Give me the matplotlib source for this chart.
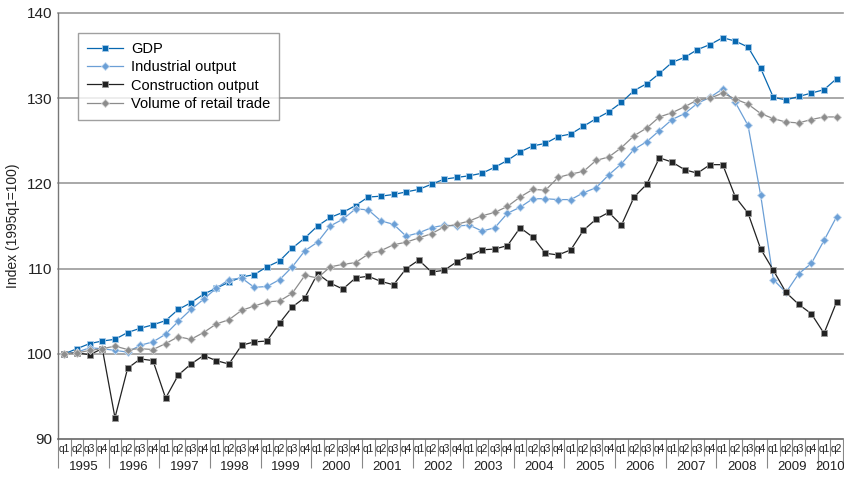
import numpy as np
import matplotlib.pyplot as plt

# quarterly data, 1995q1 .. 2010q2 (index 1995q1 = 100)
years = list(range(1995, 2011))
quarters = ["q1", "q2", "q3", "q4"]

gdp = [100.0, 100.6, 101.2, 101.5, 101.7, 102.5, 103.0, 103.4, 103.9, 105.2,
       106.0, 107.0, 107.7, 108.4, 109.0, 109.3, 110.2, 110.9, 112.4, 113.6,
       115.0, 116.0, 116.6, 117.4, 118.4, 118.5, 118.7, 119.0, 119.3, 119.9,
       120.5, 120.7, 120.9, 121.2, 121.9, 122.7, 123.7, 124.4, 124.7, 125.5,
       125.8, 126.7, 127.6, 128.4, 129.5, 130.9, 131.7, 132.9, 134.2, 134.8,
       135.7, 136.3, 137.1, 136.7, 136.0, 133.5, 130.1, 129.8, 130.2, 130.6,
       131.0, 132.3]
industrial = [100.0, 100.2, 100.7, 100.6, 100.4, 100.2, 101.0, 101.4, 102.3, 103.8,
              105.2, 106.4, 107.7, 108.7, 108.9, 107.8, 107.9, 108.7, 110.2, 112.1,
              113.1, 115.0, 115.8, 117.0, 116.9, 115.6, 115.2, 113.8, 114.2, 114.8,
              115.1, 115.0, 115.1, 114.4, 114.8, 116.5, 117.2, 118.2, 118.2, 118.1,
              118.1, 118.9, 119.5, 121.0, 122.3, 124.0, 124.9, 126.2, 127.5, 128.2,
              129.4, 130.1, 131.1, 129.5, 126.8, 118.6, 108.7, 107.2, 109.4, 110.6,
              113.3, 116.1]
construction = [100.0, 100.1, 99.9, 100.6, 92.5, 98.3, 99.4, 99.2, 94.8, 97.5,
                98.8, 99.8, 99.2, 98.8, 101.0, 101.4, 101.5, 103.6, 105.5, 106.6,
                109.4, 108.3, 107.6, 108.9, 109.1, 108.5, 108.1, 110.0, 111.0, 109.6,
                109.8, 110.8, 111.5, 112.2, 112.3, 112.7, 114.8, 113.7, 111.8, 111.6,
                112.2, 114.5, 115.8, 116.6, 115.1, 118.4, 119.9, 123.0, 122.5, 121.6,
                121.2, 122.2, 122.2, 118.4, 116.5, 112.3, 109.8, 107.2, 105.8, 104.7,
                102.4, 106.1]
retail = [100.0, 100.1, 100.4, 100.6, 100.9, 100.5, 100.6, 100.5, 101.2, 102.0,
          101.7, 102.5, 103.5, 104.0, 105.1, 105.6, 106.1, 106.2, 107.1, 109.2,
          108.9, 110.2, 110.5, 110.7, 111.7, 112.1, 112.8, 113.1, 113.6, 114.1,
          114.9, 115.2, 115.6, 116.2, 116.6, 117.3, 118.4, 119.3, 119.2, 120.7,
          121.1, 121.4, 122.7, 123.1, 124.2, 125.6, 126.5, 127.8, 128.3, 129.0,
          129.8, 130.0, 130.6, 129.9, 129.3, 128.2, 127.6, 127.2, 127.1, 127.5,
          127.8, 127.8]

SERIES = [
    ("GDP", gdp, dict(color="#0868b0", marker="s", ms=4.8, mfc="#0868b0", mec="#a9cbea")),
    ("Industrial output", industrial, dict(color="#6b9fd6", marker="D", ms=4.2, mfc="#6b9fd6", mec="#c4daf0")),
    ("Construction output", construction, dict(color="#222222", marker="s", ms=4.8, mfc="#222222", mec="#9a9a9a")),
    ("Volume of retail trade", retail, dict(color="#8c8c8c", marker="D", ms=4.2, mfc="#8c8c8c", mec="#d0d0d0")),
]

plt.rcParams["font.family"] = ["Liberation Sans", "DejaVu Sans"]

fig = plt.figure(figsize=(8.45, 4.78), dpi=100)
ax = fig.add_axes([58 / 845, 1 - 439 / 478, 785 / 845, 426 / 478])

x = np.arange(len(gdp))
for name, vals, st in SERIES:
    ax.plot(x, vals, label=name, lw=0.9, mew=0.6, zorder=3, **st)

ax.set_xlim(-0.5, len(gdp) - 0.5)
ax.set_ylim(90, 140)
ax.set_yticks([90, 100, 110, 120, 130, 140])
ax.tick_params(axis="y", length=0, labelsize=11, pad=4, labelcolor="#222222")
for v in [100, 110, 120, 130, 140]:
    ax.axhline(v, color="#9a9a9a", lw=1.2, zorder=1, clip_on=False)

for s in ["top", "right"]:
    ax.spines[s].set_visible(False)
ax.spines["left"].set_color("#777777")
ax.spines["bottom"].set_color("#666666")
ax.spines["left"].set_linewidth(1.0)
ax.spines["bottom"].set_linewidth(1.2)

# quarter / year separators as ticks
n = len(gdp)
edges = np.arange(n + 1) - 0.5
year_edges = [e for i, e in enumerate(edges) if i % 4 == 0] + [edges[-1]]
ax.set_xticks(year_edges)
ax.set_xticks(edges, minor=True)
ax.tick_params(axis="x", which="major", length=21, width=0.8, color="#888888", labelbottom=False)
ax.tick_params(axis="x", which="minor", length=12.5, width=0.8, color="#888888")

tr = ax.get_xaxis_transform()
for i in range(n):
    ax.text(i, -0.024, quarters[i % 4], transform=tr, ha="center", va="center",
            fontsize=7.3, color="#222222")
for k, yr in enumerate(years):
    start = k * 4
    stop = min(start + 4, n)
    ax.text((start + stop - 1) / 2, -0.066, str(yr), transform=tr, ha="center",
            va="center", fontsize=9.5, color="#222222")

ax.set_ylabel("Index (1995q1=100)", fontsize=10, color="#222222", labelpad=5)

leg = ax.legend(loc="upper left", bbox_to_anchor=(0.0255, 0.953), borderaxespad=0,
                fancybox=False, edgecolor="#888888", fontsize=10.5, handlelength=2.5,
                labelspacing=0.3, borderpad=0.6, handletextpad=0.55)
leg.get_frame().set_linewidth(1.0)

fig.savefig("out.png", dpi=100)
